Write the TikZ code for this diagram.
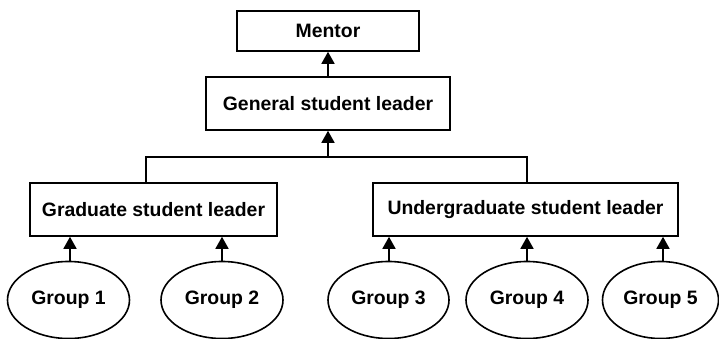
\documentclass[tikz,border=0pt]{standalone}
\usepackage{fontspec}
\setmainfont{Liberation Sans}
\usetikzlibrary{arrows.meta,shapes.geometric}

\tikzset{
  leader/.style={draw,minimum height=53pt,inner sep=0pt,font=\bfseries\fontsize{19.4}{22}\selectfont},
  group/.style={ellipse,draw,minimum width=122pt,minimum height=77pt,inner sep=0pt,font=\bfseries\fontsize{19.4}{22}\selectfont},
  up/.style={-{Triangle[length=12pt,width=13pt]}}
}

\begin{document}
\begin{tikzpicture}[x=1pt,y=-1pt,line width=1.6pt]
    \useasboundingbox (0,0) rectangle (719,339);

    % leaders
    \node[leader,minimum width=182pt,minimum height=40pt] at (328,31) (mentor) {Mentor};
    \node[leader,minimum width=244pt] at (328,103.5) (general) {General student leader};
    \node[leader,minimum width=247pt] at (153.5,209.5) (grad) {Graduate student leader};
    \node[leader,minimum width=305pt] at (525.5,209.5) (ugrad) {Undergraduate student leader};

    % groups
    \node[group] at (68.5,300) (g1) {Group 1};
    \node[group] at (222,300) (g2) {Group 2};
    \node[group,minimum width=121pt] at (388.5,300) (g3) {Group 3};
    \node[group] at (527,300) (g4) {Group 4};
    \node[group,minimum width=116pt] at (660.5,300) (g5) {Group 5};

    \coordinate (split) at (328,157);

    \draw[up] (general) -- (mentor);
    \draw[up] (split) -- (general);
    \draw (grad.north -| 146,0) |- (split) -| (ugrad.north -| 527,0);

    \draw[up] (g1.north -| 70,0) -- (grad.south -| 70,0);
    \draw[up] (g2) -- (grad.south -| g2);
    \draw[up] (g3.north -| 389,0) -- (ugrad.south -| 389,0);
    \draw[up] (g4) -- (ugrad.south -| g4);
    \draw[up] (g5.north -| 663,0) -- (ugrad.south -| 663,0);
\end{tikzpicture}
\end{document}
